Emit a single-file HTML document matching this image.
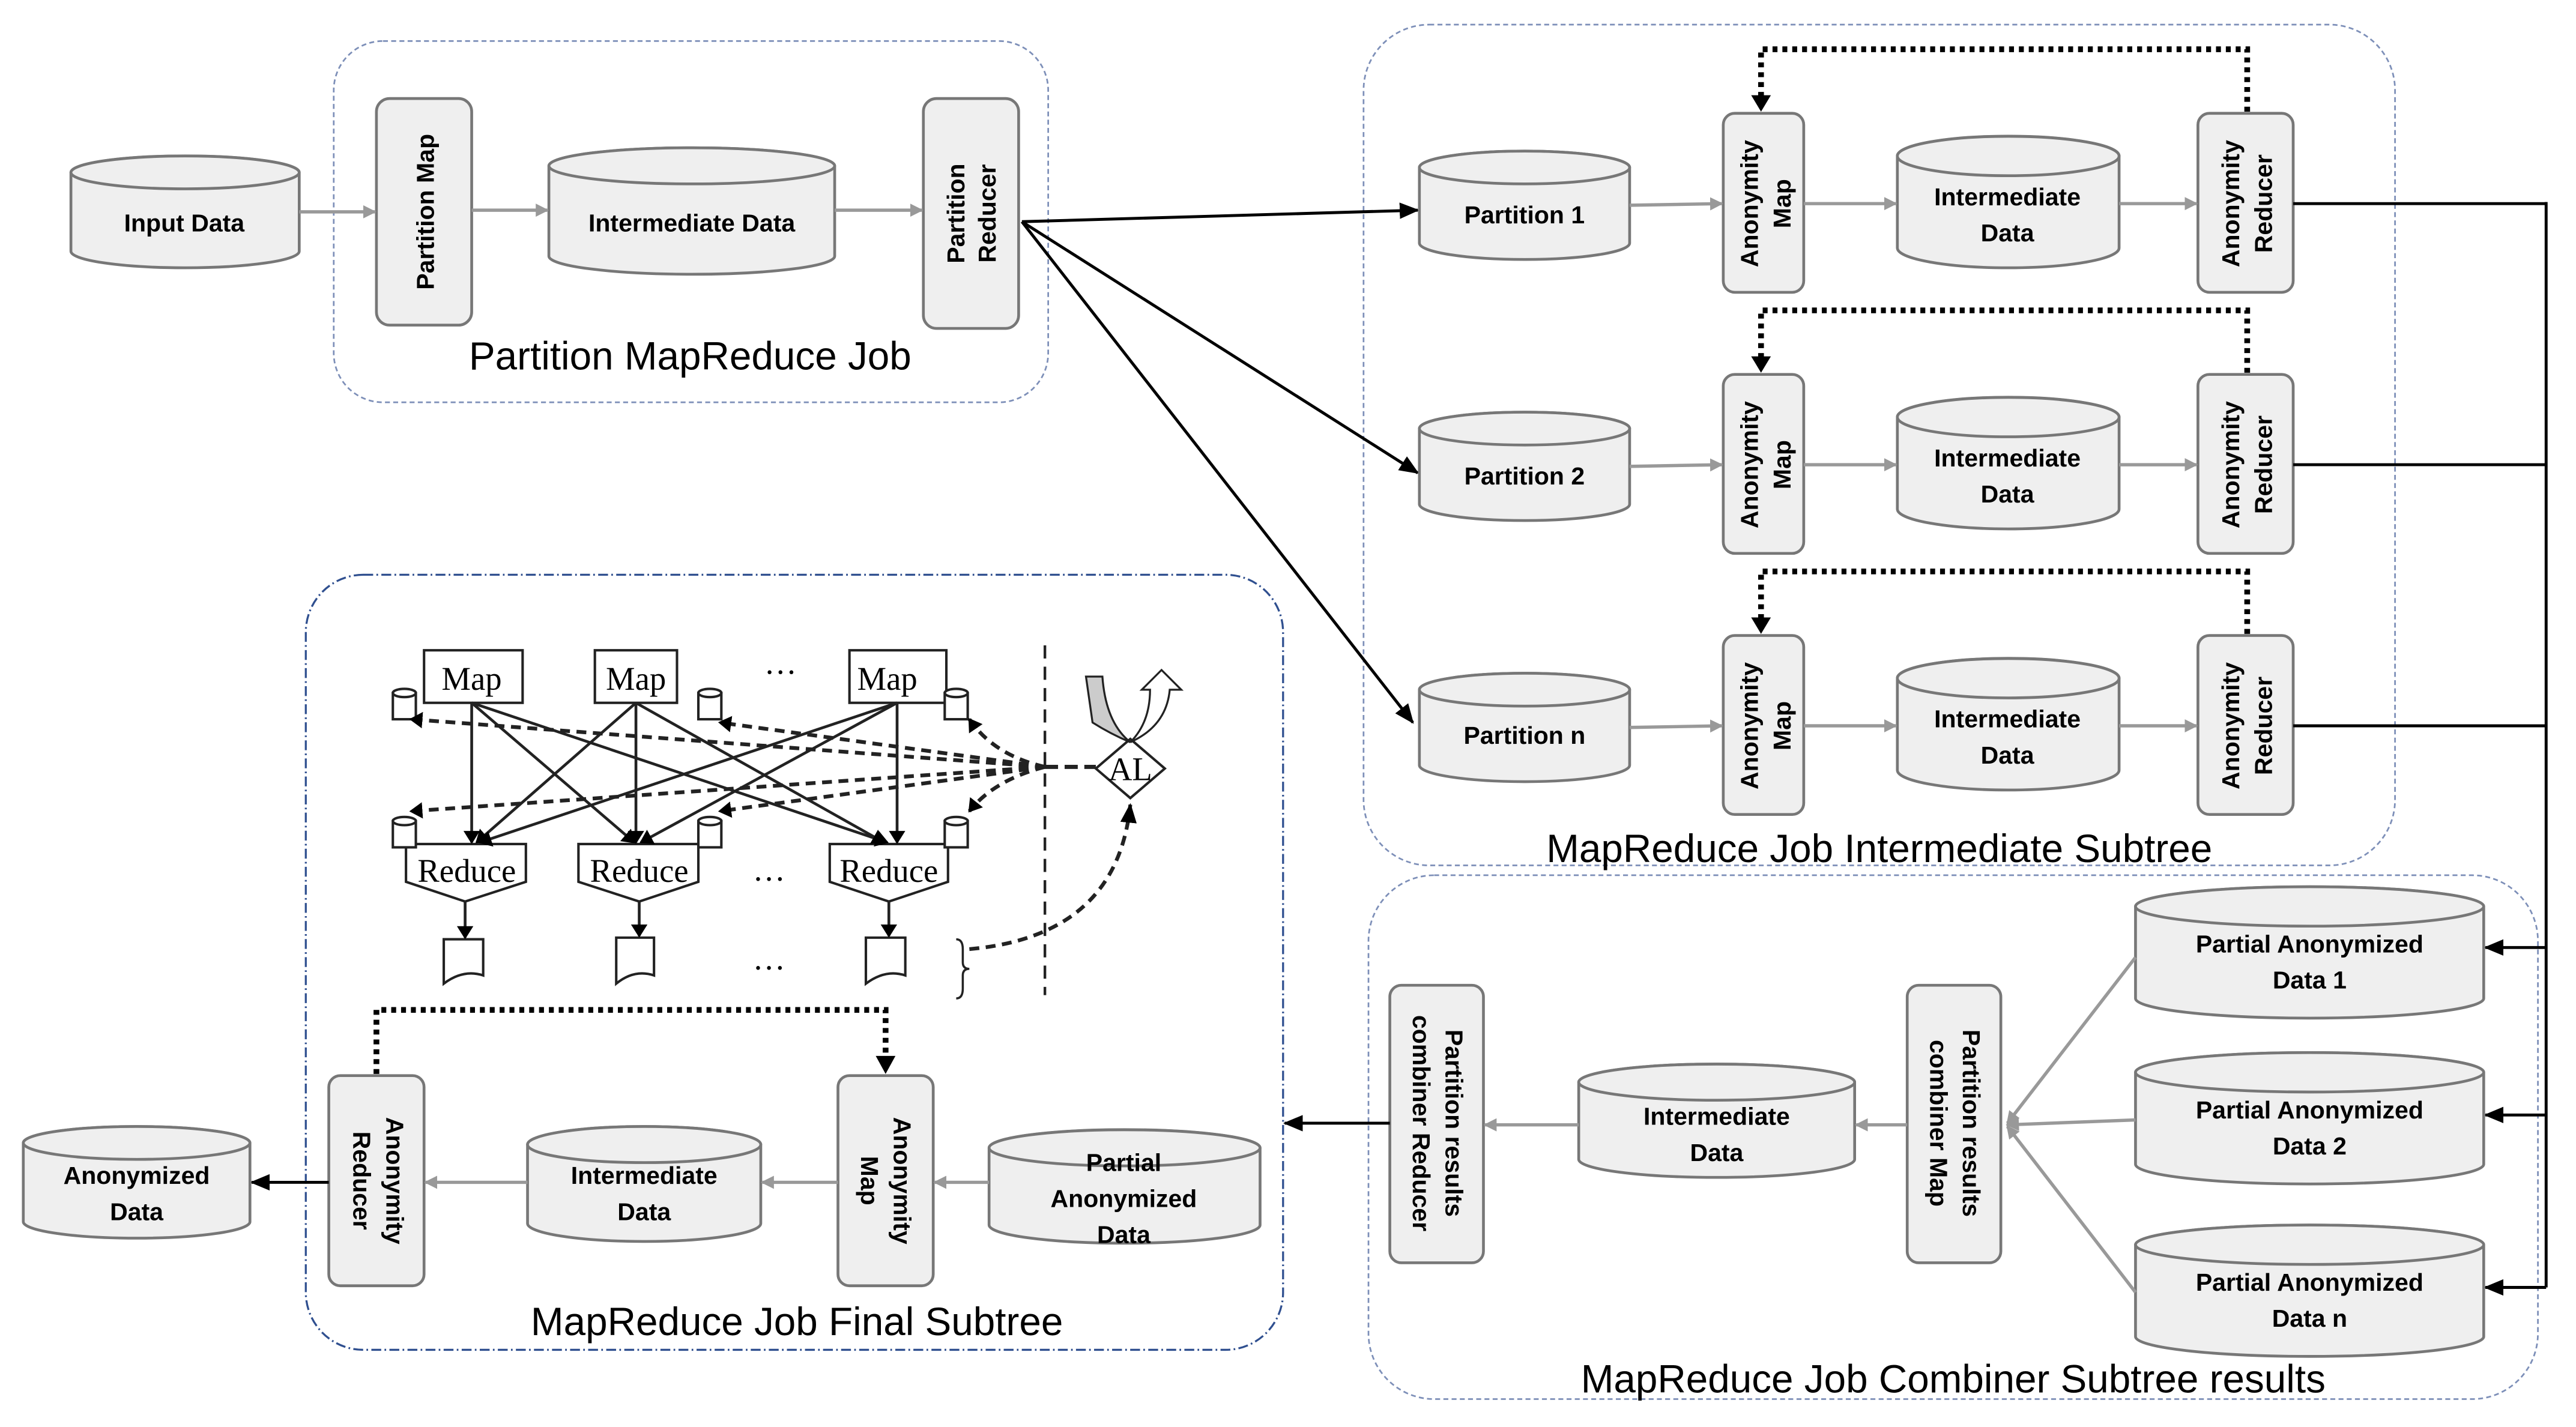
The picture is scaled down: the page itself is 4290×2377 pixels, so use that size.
<!DOCTYPE html>
<html><head><meta charset="utf-8"><style>html,body{margin:0;padding:0;background:#fff}svg{display:block}</style></head>
<body>
<svg width="4290" height="2377" viewBox="0 0 1568 869" xmlns="http://www.w3.org/2000/svg" font-family="Liberation Sans, sans-serif">
<defs>
<marker id="ga" markerWidth="8" markerHeight="8" refX="7" refY="4" orient="auto" markerUnits="userSpaceOnUse"><path d="M0,0 L8,4 L0,8 Z" fill="#999"/></marker>
<marker id="ba" markerWidth="12" markerHeight="10" refX="11" refY="5" orient="auto" markerUnits="userSpaceOnUse"><path d="M0,0 L12,5 L0,10 Z" fill="#000"/></marker>
<marker id="sa" markerWidth="8" markerHeight="10" refX="7" refY="5" orient="auto" markerUnits="userSpaceOnUse"><path d="M0,0 L8,5 L0,10 Z" fill="#000"/></marker>
<style>
.cyl{fill:#efefef;stroke:#777;stroke-width:1.7}
.box{fill:#efefef;stroke:#777;stroke-width:1.7}
.lb{font-weight:bold;font-size:15px;fill:#000;text-anchor:middle}
.ct{font-size:24px;fill:#000;text-anchor:middle}
.cont{fill:none;stroke:#7d8fb8;stroke-width:1;stroke-dasharray:3 2}
.gl{stroke:#999;stroke-width:2;fill:none;marker-end:url(#ga)}
.bl{stroke:#000;stroke-width:1.8;fill:none}
.dot{stroke:#000;stroke-width:3.5;fill:none;stroke-dasharray:3 3}
.tn{font-family:'Liberation Serif',serif;font-size:20px;text-anchor:middle}
</style>
</defs>

<rect class="cont" x="203" y="25" width="435" height="220" rx="30"/>
<text class="ct" x="420" y="225">Partition MapReduce Job</text>
<rect class="cont" x="830" y="15" width="628" height="512" rx="40"/>
<text class="ct" x="1144" y="525">MapReduce Job Intermediate Subtree</text>
<rect class="cont" x="833" y="533" width="712" height="319" rx="40"/>
<text class="ct" x="1189" y="848">MapReduce Job Combiner Subtree results</text>
<rect x="186" y="350" width="595" height="472" rx="35" fill="none" stroke="#2f4f8f" stroke-width="1.2" stroke-dasharray="6 2 1 2"/>
<text class="ct" x="485" y="813">MapReduce Job Final Subtree</text>

<path class="cyl" d="M43,105 A69,10 0 0 1 182,105 V153 A69,10 0 0 1 43,153 Z"/><ellipse class="cyl" cx="112.5" cy="105" rx="69.5" ry="10"/>
<text class="lb" x="112" y="141">Input Data</text>
<rect class="box" x="229" y="60" width="58" height="138" rx="8"/>
<text class="lb" transform="translate(264,129) rotate(-90)">Partition Map</text>
<path class="cyl" d="M334,101 A87,11 0 0 1 508,101 V156 A87,11 0 0 1 334,156 Z"/><ellipse class="cyl" cx="421" cy="101" rx="87" ry="11"/>
<text class="lb" x="421" y="141">Intermediate Data</text>
<rect class="box" x="562" y="60" width="58" height="140" rx="8"/>
<text class="lb" transform="translate(587,130) rotate(-90)">Partition</text>
<text class="lb" transform="translate(606,130) rotate(-90)">Reducer</text>
<line class="gl" x1="182" y1="129" x2="228" y2="129"/>
<line class="gl" x1="287" y1="128" x2="333" y2="128"/>
<line class="gl" x1="508" y1="128" x2="561" y2="128"/>

<line class="bl" x1="622" y1="135" x2="863" y2="128" marker-end="url(#ba)"/>
<line class="bl" x1="622" y1="135" x2="863" y2="288" marker-end="url(#ba)"/>
<line class="bl" x1="622" y1="135" x2="860" y2="440" marker-end="url(#ba)"/>

<g id="row">
<path class="cyl" d="M864,102 A64,10 0 0 1 992,102 V148 A64,10 0 0 1 864,148 Z"/><ellipse class="cyl" cx="928" cy="102" rx="64" ry="10"/>
<rect class="box" x="1049" y="69" width="49" height="109" rx="7"/>
<text class="lb" transform="translate(1070,124) rotate(-90)">Anonymity</text>
<text class="lb" transform="translate(1090,124) rotate(-90)">Map</text>
<path class="cyl" d="M1155,95 A67,12 0 0 1 1290,95 V151 A67,12 0 0 1 1155,151 Z"/><ellipse class="cyl" cx="1222.5" cy="95" rx="67.5" ry="12"/>
<text class="lb" x="1222" y="125">Intermediate</text><text class="lb" x="1222" y="147">Data</text>
<rect class="box" x="1338" y="69" width="58" height="109" rx="7"/>
<text class="lb" transform="translate(1363,124) rotate(-90)">Anonymity</text>
<text class="lb" transform="translate(1383,124) rotate(-90)">Reducer</text>
<line class="gl" x1="992" y1="125" x2="1048" y2="124"/>
<line class="gl" x1="1098" y1="124" x2="1154" y2="124"/>
<line class="gl" x1="1290" y1="124" x2="1337" y2="124"/>
<path class="dot" d="M1368,68 V30 H1072 V60"/>
<path d="M1066,58 L1078,58 L1072,68 Z"/>
<line class="bl" x1="1396" y1="124" x2="1550" y2="124"/>
</g>
<text class="lb" x="928" y="136">Partition 1</text>
<use href="#row" transform="translate(0,159)"/>
<text class="lb" x="928" y="295">Partition 2</text>
<use href="#row" transform="translate(0,318)"/>
<text class="lb" x="928" y="453">Partition n</text>

<line class="bl" x1="1550" y1="123" x2="1550" y2="784"/>
<line class="bl" x1="1550" y1="577" x2="1513" y2="577" marker-end="url(#ba)"/>
<line class="bl" x1="1550" y1="679" x2="1513" y2="679" marker-end="url(#ba)"/>
<line class="bl" x1="1550" y1="784" x2="1513" y2="784" marker-end="url(#ba)"/>

<g id="pad">
<path class="cyl" d="M1300,552 A106,12 0 0 1 1512,552 V608 A106,12 0 0 1 1300,608 Z"/><ellipse class="cyl" cx="1406" cy="552" rx="106" ry="12"/>
</g>
<text class="lb" x="1406" y="580">Partial Anonymized</text><text class="lb" x="1406" y="602">Data 1</text>
<use href="#pad" transform="translate(0,101)"/>
<text class="lb" x="1406" y="681">Partial Anonymized</text><text class="lb" x="1406" y="703">Data 2</text>
<use href="#pad" transform="translate(0,206)"/>
<text class="lb" x="1406" y="786">Partial Anonymized</text><text class="lb" x="1406" y="808">Data n</text>
<line class="gl" x1="1300" y1="583" x2="1222" y2="684"/>
<line class="gl" x1="1300" y1="682" x2="1222" y2="685"/>
<line class="gl" x1="1300" y1="787" x2="1222" y2="686"/>
<rect class="box" x="1161" y="600" width="57" height="169" rx="7"/>
<text class="lb" transform="translate(1195,684) rotate(90)">Partition results</text>
<text class="lb" transform="translate(1175,684) rotate(90)">combiner Map</text>
<path class="cyl" d="M961,659 A84,11 0 0 1 1129,659 V706 A84,11 0 0 1 961,706 Z"/><ellipse class="cyl" cx="1045" cy="659" rx="84" ry="11"/>
<text class="lb" x="1045" y="685">Intermediate</text><text class="lb" x="1045" y="707">Data</text>
<line class="gl" x1="1161" y1="685" x2="1130" y2="685"/>
<rect class="box" x="846" y="600" width="57" height="169" rx="7"/>
<text class="lb" transform="translate(880,684) rotate(90)">Partition results</text>
<text class="lb" transform="translate(860,684) rotate(90)">combiner Reducer</text>
<line class="gl" x1="961" y1="685" x2="904" y2="685"/>
<line class="bl" x1="846" y1="684" x2="782" y2="684" marker-end="url(#ba)"/>

<path class="cyl" d="M602,699 A82,11 0 0 1 767,699 V746 A82,11 0 0 1 602,746 Z"/><ellipse class="cyl" cx="684.5" cy="699" rx="82.5" ry="11"/>
<text class="lb" x="684" y="713">Partial</text><text class="lb" x="684" y="735">Anonymized</text><text class="lb" x="684" y="757">Data</text>
<rect class="box" x="510" y="655" width="58" height="128" rx="7"/>
<text class="lb" transform="translate(544,719) rotate(90)">Anonymity</text>
<text class="lb" transform="translate(524,719) rotate(90)">Map</text>
<line class="gl" x1="602" y1="720" x2="569" y2="720"/>
<path class="cyl" d="M321,697 A71,11 0 0 1 463,697 V745 A71,11 0 0 1 321,745 Z"/><ellipse class="cyl" cx="392" cy="697" rx="71" ry="11"/>
<text class="lb" x="392" y="721">Intermediate</text><text class="lb" x="392" y="743">Data</text>
<line class="gl" x1="510" y1="720" x2="464" y2="720"/>
<rect class="box" x="200" y="655" width="58" height="128" rx="7"/>
<text class="lb" transform="translate(235,719) rotate(90)">Anonymity</text>
<text class="lb" transform="translate(215,719) rotate(90)">Reducer</text>
<line class="gl" x1="321" y1="720" x2="259" y2="720"/>
<line class="bl" x1="200" y1="720" x2="153" y2="720" marker-end="url(#ba)"/>
<path class="cyl" d="M14,696 A69,10 0 0 1 152,696 V744 A69,10 0 0 1 14,744 Z"/><ellipse class="cyl" cx="83" cy="696" rx="69" ry="10"/>
<text class="lb" x="83" y="721">Anonymized</text><text class="lb" x="83" y="743">Data</text>
<path class="dot" d="M229,654 V615 H539 V645"/>
<path d="M533,643 L545,643 L539,654 Z"/>

<g stroke="#222" fill="#fff" stroke-width="1.5">
<rect x="258" y="396" width="60" height="32"/><rect x="362" y="396" width="50" height="32"/><rect x="517" y="396" width="59" height="32"/>
<path d="M247,514 H320 V537 L283,549 L247,537 Z"/><path d="M352,514 H425 V537 L389,549 L352,537 Z"/><path d="M505,514 H577 V537 L541,549 L505,537 Z"/>
<path d="M270,572 H294 V594 Q282,590 270,599 Z"/><path d="M375,571 H398 V594 Q386,590 375,599 Z"/><path d="M527,571 H551 V594 Q539,590 527,599 Z"/>
<g id="sc"><rect x="239" y="422" width="14" height="16"/><ellipse cx="246" cy="422" rx="7" ry="2.5"/></g>
<use href="#sc" transform="translate(186,0)"/><use href="#sc" transform="translate(336,0)"/>
<use href="#sc" transform="translate(0,78)"/><use href="#sc" transform="translate(186,78)"/><use href="#sc" transform="translate(336,78)"/>
<path d="M667,468 L688,450 L709,468 L688,486 Z"/>
</g>
<g stroke="#222" stroke-width="1.7" fill="none">
<line x1="287" y1="428" x2="287" y2="513" marker-end="url(#sa)"/>
<line x1="287" y1="428" x2="386" y2="513" marker-end="url(#sa)"/>
<line x1="287" y1="428" x2="540" y2="513" marker-end="url(#sa)"/>
<line x1="387" y1="428" x2="290" y2="513" marker-end="url(#sa)"/>
<line x1="387" y1="428" x2="387" y2="513" marker-end="url(#sa)"/>
<line x1="387" y1="428" x2="538" y2="513" marker-end="url(#sa)"/>
<line x1="546" y1="428" x2="292" y2="513" marker-end="url(#sa)"/>
<line x1="546" y1="428" x2="390" y2="513" marker-end="url(#sa)"/>
<line x1="546" y1="428" x2="546" y2="513" marker-end="url(#sa)"/>
<line x1="283" y1="549" x2="283" y2="571" marker-end="url(#sa)"/>
<line x1="389" y1="549" x2="389" y2="570" marker-end="url(#sa)"/>
<line x1="541" y1="549" x2="541" y2="570" marker-end="url(#sa)"/>
</g>
<g stroke="#222" stroke-width="2.3" fill="none" stroke-dasharray="6 4">
<path d="M636,467 L250,438" marker-end="url(#sa)"/>
<path d="M636,467 L250,494" marker-end="url(#sa)"/>
<path d="M636,467 L438,440" marker-end="url(#sa)"/>
<path d="M636,467 L438,494" marker-end="url(#sa)"/>
<path d="M636,467 Q605,460 590,438" marker-end="url(#sa)"/>
<path d="M636,467 Q605,475 590,494" marker-end="url(#sa)"/>
<path d="M590,578 Q680,570 688,490" marker-end="url(#ba)"/>
</g>
<line x1="636" y1="393" x2="636" y2="606" stroke="#222" stroke-width="1.6" stroke-dasharray="8 5"/>
<line x1="636" y1="467" x2="667" y2="467" stroke="#222" stroke-width="2.5" stroke-dasharray="8 4"/>
<path d="M582,572 q4,0 4,6 v8 q0,4 4,4 q-4,0 -4,4 v8 q0,6 -4,6" fill="none" stroke="#222" stroke-width="1.3"/>
<path d="M661,412 L671,412 Q673,440 688,452 Q676,447 665,440 Z" fill="#ccc" stroke="#222" stroke-width="1.2"/>
<path d="M688,452 Q700,440 700,420 L695,420 L707,408 L719,420 L712,420 Q710,442 688,452" fill="#fff" stroke="#222" stroke-width="1.2"/>
<text class="tn" x="287" y="420">Map</text><text class="tn" x="387" y="420">Map</text><text class="tn" x="540" y="420">Map</text>
<text class="tn" x="284" y="537">Reduce</text><text class="tn" x="389" y="537">Reduce</text><text class="tn" x="541" y="537">Reduce</text>
<text class="tn" x="688" y="475">AL</text>
<text class="tn" x="475" y="416">···</text><text class="tn" x="468" y="542">···</text><text class="tn" x="468" y="596">···</text>
</svg>
</body></html>
